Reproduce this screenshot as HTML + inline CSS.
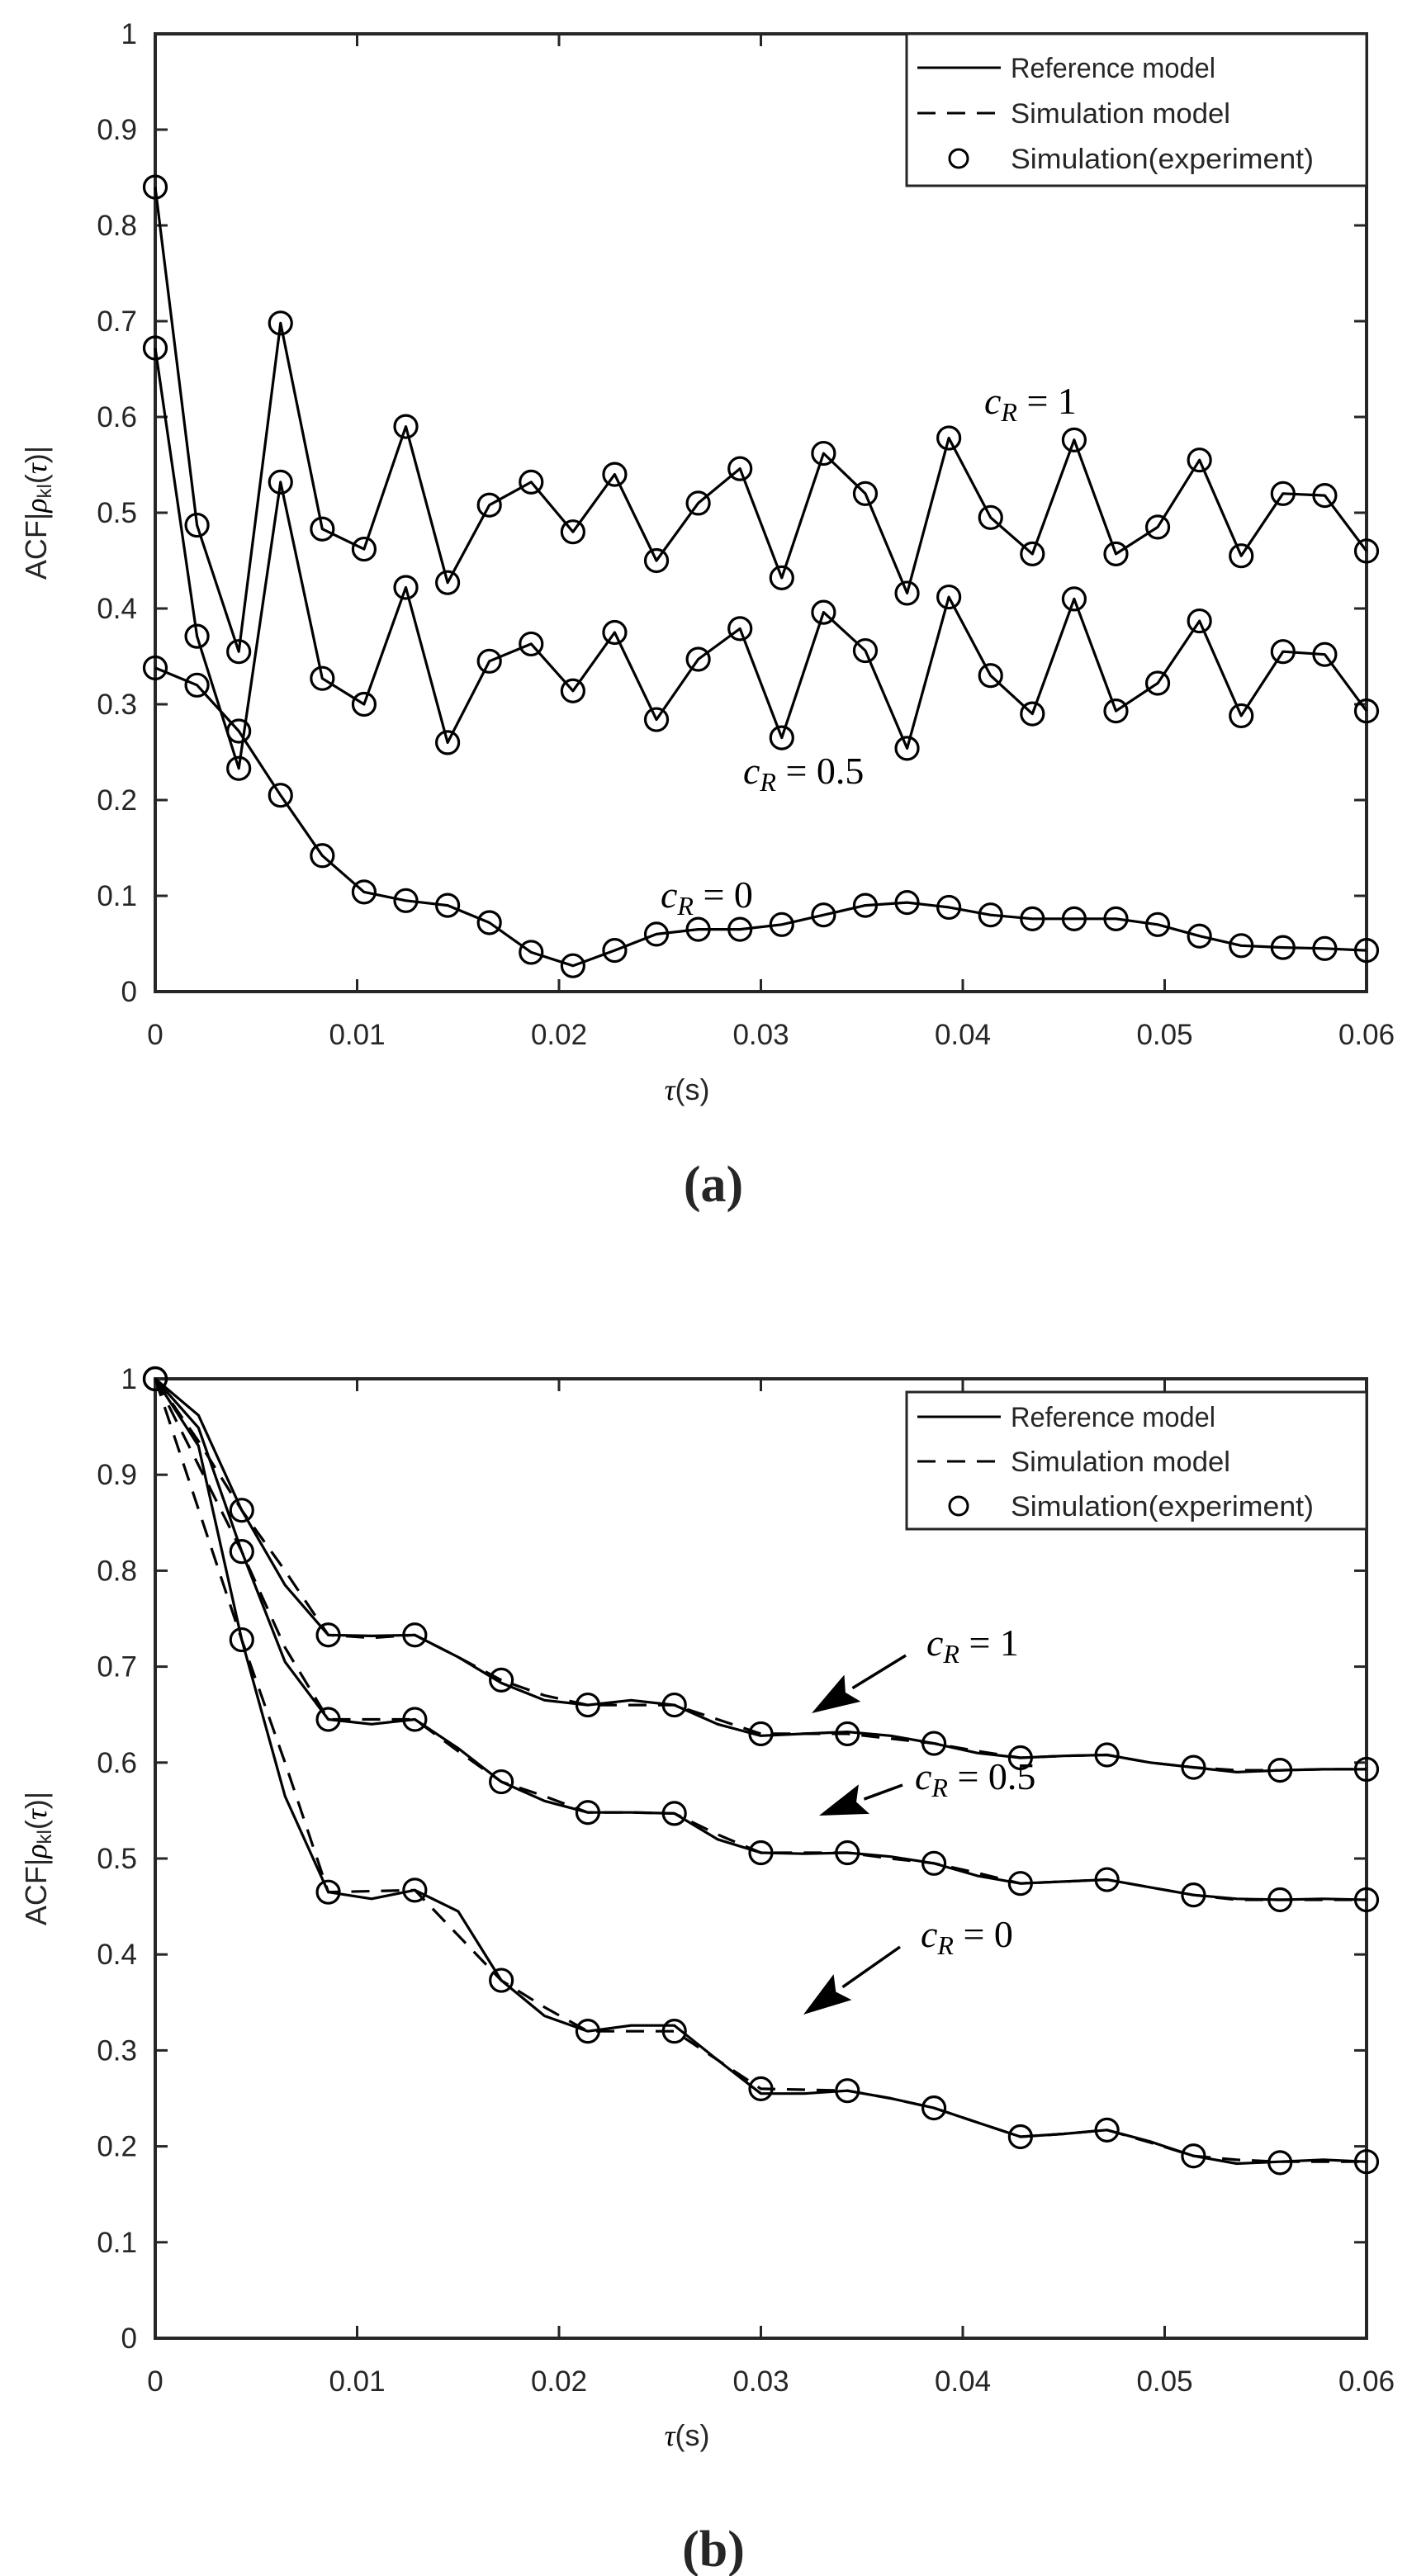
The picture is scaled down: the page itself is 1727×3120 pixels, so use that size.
<!DOCTYPE html>
<html><head><meta charset="utf-8"><style>
body{margin:0;background:#fff}
svg{display:block}
text{font-family:"Liberation Sans",sans-serif;fill:#262626}
.m{font-family:"Liberation Serif",serif;font-style:italic;fill:#000}
</style></head><body>
<svg id="fig" width="1727" height="3120" viewBox="0 0 1727 3120" xmlns="http://www.w3.org/2000/svg"></svg>
<script>
// ---- data: panel (a) ----
const xTicks=[0,0.01,0.02,0.03,0.04,0.05,0.06];
const xTickLabels=["0","0.01","0.02","0.03","0.04","0.05","0.06"];
const yTicks=[0,0.1,0.2,0.3,0.4,0.5,0.6,0.7,0.8,0.9,1];
const yTickLabels=["0","0.1","0.2","0.3","0.4","0.5","0.6","0.7","0.8","0.9","1"];
const aCount=30;
const aCr1=[0.84,0.487,0.355,0.698,0.483,0.462,0.59,0.427,0.508,0.532,0.48,0.54,0.45,0.51,0.546,0.432,0.562,0.52,0.416,0.578,0.495,0.457,0.576,0.457,0.485,0.555,0.455,0.52,0.518,0.46];
const aCr05=[0.672,0.371,0.233,0.532,0.327,0.3,0.422,0.26,0.345,0.363,0.314,0.375,0.284,0.347,0.379,0.265,0.396,0.356,0.254,0.412,0.33,0.29,0.41,0.293,0.322,0.387,0.288,0.355,0.352,0.293];
const aCr0=[0.338,0.32,0.272,0.205,0.142,0.104,0.095,0.09,0.072,0.041,0.027,0.043,0.06,0.065,0.065,0.07,0.08,0.09,0.093,0.088,0.08,0.076,0.076,0.076,0.07,0.058,0.048,0.046,0.045,0.043];
// ---- data: panel (b) ----
const bLineCount=29;
const bMarkCount=15;
const bRef1=[1,0.962,0.863,0.785,0.733,0.732,0.733,0.71,0.683,0.665,0.66,0.665,0.66,0.64,0.628,0.63,0.632,0.628,0.62,0.61,0.605,0.607,0.608,0.6,0.595,0.59,0.592,0.593,0.593];
const bRef05=[1,0.949,0.82,0.705,0.645,0.64,0.645,0.615,0.58,0.56,0.548,0.548,0.547,0.52,0.506,0.505,0.506,0.502,0.495,0.482,0.474,0.476,0.478,0.47,0.462,0.458,0.457,0.458,0.457];
const bRef0=[1,0.93,0.728,0.565,0.465,0.458,0.467,0.445,0.373,0.336,0.32,0.326,0.326,0.29,0.255,0.255,0.258,0.25,0.24,0.225,0.21,0.213,0.217,0.205,0.19,0.182,0.184,0.186,0.184];
const bSim1=[1,0.935,0.863,0.8,0.733,0.73,0.733,0.71,0.686,0.67,0.66,0.66,0.66,0.645,0.63,0.63,0.63,0.625,0.62,0.612,0.605,0.607,0.608,0.6,0.595,0.592,0.592,0.593,0.593];
const bSim05=[1,0.91,0.82,0.72,0.645,0.645,0.645,0.612,0.58,0.565,0.548,0.548,0.547,0.525,0.506,0.506,0.506,0.5,0.495,0.485,0.474,0.476,0.478,0.47,0.462,0.457,0.457,0.457,0.457];
const bSim0=[1,0.864,0.728,0.6,0.465,0.466,0.467,0.42,0.373,0.345,0.32,0.32,0.32,0.29,0.26,0.259,0.258,0.25,0.24,0.225,0.21,0.213,0.217,0.204,0.19,0.186,0.184,0.184,0.184];
const bExp1=[1,0.863,0.733,0.733,0.686,0.66,0.66,0.63,0.63,0.62,0.605,0.608,0.595,0.592,0.593];
const bExp05=[1,0.82,0.645,0.645,0.58,0.548,0.547,0.506,0.506,0.495,0.474,0.478,0.462,0.457,0.457];
const bExp0=[1,0.728,0.465,0.467,0.373,0.32,0.32,0.26,0.258,0.24,0.21,0.217,0.19,0.183,0.184];

const NS="http://www.w3.org/2000/svg";
const svg=document.getElementById('fig');
function el(tag,attrs,parent,txt){const e=document.createElementNS(NS,tag);for(const k in attrs)e.setAttribute(k,attrs[k]);if(txt!==undefined)e.textContent=txt;(parent||svg).appendChild(e);return e;}

function makeAxes(name,top,bottom){
  const L=188,R=1655;
  const g=el('g',{});
  
  
  const sx=v=>L+(v/0.06)*(R-L);
  const sy=v=>bottom-v*(bottom-top);
  xTicks.forEach((t,i)=>{
    const x=sx(t);
    const tk=el('line',{x1:x,x2:x,y1:bottom,y2:bottom-15,stroke:'#262626','stroke-width':3},g);
    
    
    const tk2=el('line',{x1:x,x2:x,y1:top,y2:top+15,stroke:'#262626','stroke-width':3},g);
    
    
    const lb=el('text',{x:x,y:bottom+64,'font-size':35,'text-anchor':'middle'},g,xTickLabels[i]);
    
    
  });
  yTicks.forEach((t,i)=>{
    const y=sy(t);
    const tk=el('line',{x1:L,x2:L+15,y1:y,y2:y,stroke:'#262626','stroke-width':3},g);
    
    
    const tk2=el('line',{x1:R,x2:R-15,y1:y,y2:y,stroke:'#262626','stroke-width':3},g);
    
    
    const lb=el('text',{x:L-22,y:y+12,'font-size':35,'text-anchor':'end'},g,yTickLabels[i]);
    
    
  });
  const box=el('rect',{x:L,y:top,width:R-L,height:bottom-top,fill:'none',stroke:'#262626','stroke-width':4},g);
  
  
  return {g,sx,sy,top,bottom,L,R};
}

function polyline(ax,xs,ys,dash,name){
  const pts=ys.map((v,i)=>ax.sx(xs[i]).toFixed(1)+','+ax.sy(v).toFixed(1)).join(' ');
  const p=el('polyline',{points:pts,fill:'none',stroke:'#000','stroke-width':3.2,'stroke-linejoin':'round'},ax.g);
  if(dash)p.setAttribute('stroke-dasharray','22 14');
  
  
}
function markers(ax,xs,ys,name){
  ys.forEach((v,i)=>{
    const c=el('circle',{cx:ax.sx(xs[i]),cy:ax.sy(v),r:13.5,fill:'none',stroke:'#000','stroke-width':3.2},ax.g);
    
    
  });
}
function legend(ax,top,bottom,first,step,name){
  const g=el('g',{},ax.g);
  
  
  const r=el('rect',{x:1098,y:top,width:ax.R-1098,height:bottom-top,fill:'#fff',stroke:'#262626','stroke-width':3},g);
  
  
  const rows=['Reference model','Simulation model','Simulation(experiment)'];
  const widths=[248,266,367];
  rows.forEach((t,k)=>{
    const y=top+first+step*k;
    if(k===0){const l=el('line',{x1:1111,x2:1212,y1:y,y2:y,stroke:'#000','stroke-width':3},g);}
    if(k===1){const l=el('line',{x1:1111,x2:1212,y1:y,y2:y,stroke:'#000','stroke-width':3,'stroke-dasharray':'22 14'},g);}
    if(k===2){const c=el('circle',{cx:1161,cy:y,r:11,fill:'none',stroke:'#000','stroke-width':3},g);}
    const tx=el('text',{x:1224,y:y+12,'font-size':34,fill:'#000',textLength:widths[k],lengthAdjust:'spacingAndGlyphs'},g,t);
    
    
  });
}
function mathLabel(x,y,val,name){
  const t=el('text',{x:x,y:y,'font-size':46,class:'m'});
  
  
  el('tspan',{},t,'c');
  el('tspan',{dy:9,'font-size':32},t,'R');
  el('tspan',{dy:-9,'font-style':'normal'},t,' = '+val);
}
function arrow(x1,y1,x2,y2,name){
  const g=el('g',{});
  
  
  const ang=Math.atan2(y2-y1,x2-x1),L=58,W=19;
  const bx=x2-L*Math.cos(ang),by=y2-L*Math.sin(ang);
  el('line',{x1:x1,y1:y1,x2:bx,y2:by,stroke:'#000','stroke-width':3.5},g);
  const p=[[x2,y2],[bx+W*Math.sin(ang),by-W*Math.cos(ang)],[bx+10*Math.cos(ang),by+10*Math.sin(ang)],[bx-W*Math.sin(ang),by+W*Math.cos(ang)]];
  el('polygon',{points:p.map(q=>q.join(',')).join(' '),fill:'#000'},g);
}
function yTitle(cy,name){
  const t=el('text',{x:0,y:0,'font-size':36,'text-anchor':'middle',transform:'translate(56,'+cy+') rotate(-90)'});
  
  
  el('tspan',{},t,'ACF|');el('tspan',{class:'m'},t,'ρ');el('tspan',{'font-size':24,dy:6},t,'kl');el('tspan',{dy:-6},t,'(');el('tspan',{class:'m'},t,'τ');el('tspan',{},t,')|');
}
function xTitle(y,name){
  const t=el('text',{x:832,y:y,'font-size':36,'text-anchor':'middle'});
  
  
  el('tspan',{class:'m'},t,'τ');el('tspan',{},t,'(s)');
}

// ---------- Panel (a) ----------
const A=makeAxes('panel-a-axes',41,1201);
const aX=aCr1.map((_,i)=>i*0.06/(aCount-1));
[[aCr1,'cr1'],[aCr05,'cr05'],[aCr0,'cr0']].forEach(([s,n])=>{
  polyline(A,aX,s,false,'a-reference-line-'+n);
  markers(A,aX,s,'a-experiment-marker-'+n);
});
legend(A,41,225,41,55,'legend-a');
mathLabel(1192,501,'1','a-label-cr1');
mathLabel(900,949,'0.5','a-label-cr05');
mathLabel(800,1099,'0','a-label-cr0');
xTitle(1332,'x-axis-title-a');
yTitle(621,'y-axis-title-a');
let t=el('text',{x:864,y:1455,'font-size':62,'font-weight':'bold','text-anchor':'middle',style:'font-family:"Liberation Serif",serif',fill:'#000'},svg,'(a)');

// ---------- Panel (b) ----------
const B=makeAxes('panel-b-axes',1670,2832);
const bLX=bRef1.map((_,i)=>i*0.06/(bLineCount-1));
const bMX=bExp1.map((_,i)=>i*0.06/(bMarkCount-1));
[[bRef1,bSim1,bExp1,'cr1'],[bRef05,bSim05,bExp05,'cr05'],[bRef0,bSim0,bExp0,'cr0']].forEach(([r,s,e,n])=>{
  polyline(B,bLX,r,false,'b-reference-line-'+n);
  polyline(B,bLX,s,true,'b-simulation-line-'+n);
  markers(B,bMX,e,'b-experiment-marker-'+n);
});
legend(B,1686,1852,30,54,'legend-b');
mathLabel(1122,2005,'1','b-label-cr1');
mathLabel(1108,2167,'0.5','b-label-cr05');
mathLabel(1115,2358,'0','b-label-cr0');
arrow(1097,2005,983,2075,'b-arrow-cr1');
arrow(1093,2162,992,2199,'b-arrow-cr05');
arrow(1090,2358,973,2440,'b-arrow-cr0');
xTitle(2962,'x-axis-title-b');
yTitle(2251,'y-axis-title-b');
t=el('text',{x:864,y:3108,'font-size':62,'font-weight':'bold','text-anchor':'middle',style:'font-family:"Liberation Serif",serif',fill:'#000'},svg,'(b)');
</script>
</body></html>
